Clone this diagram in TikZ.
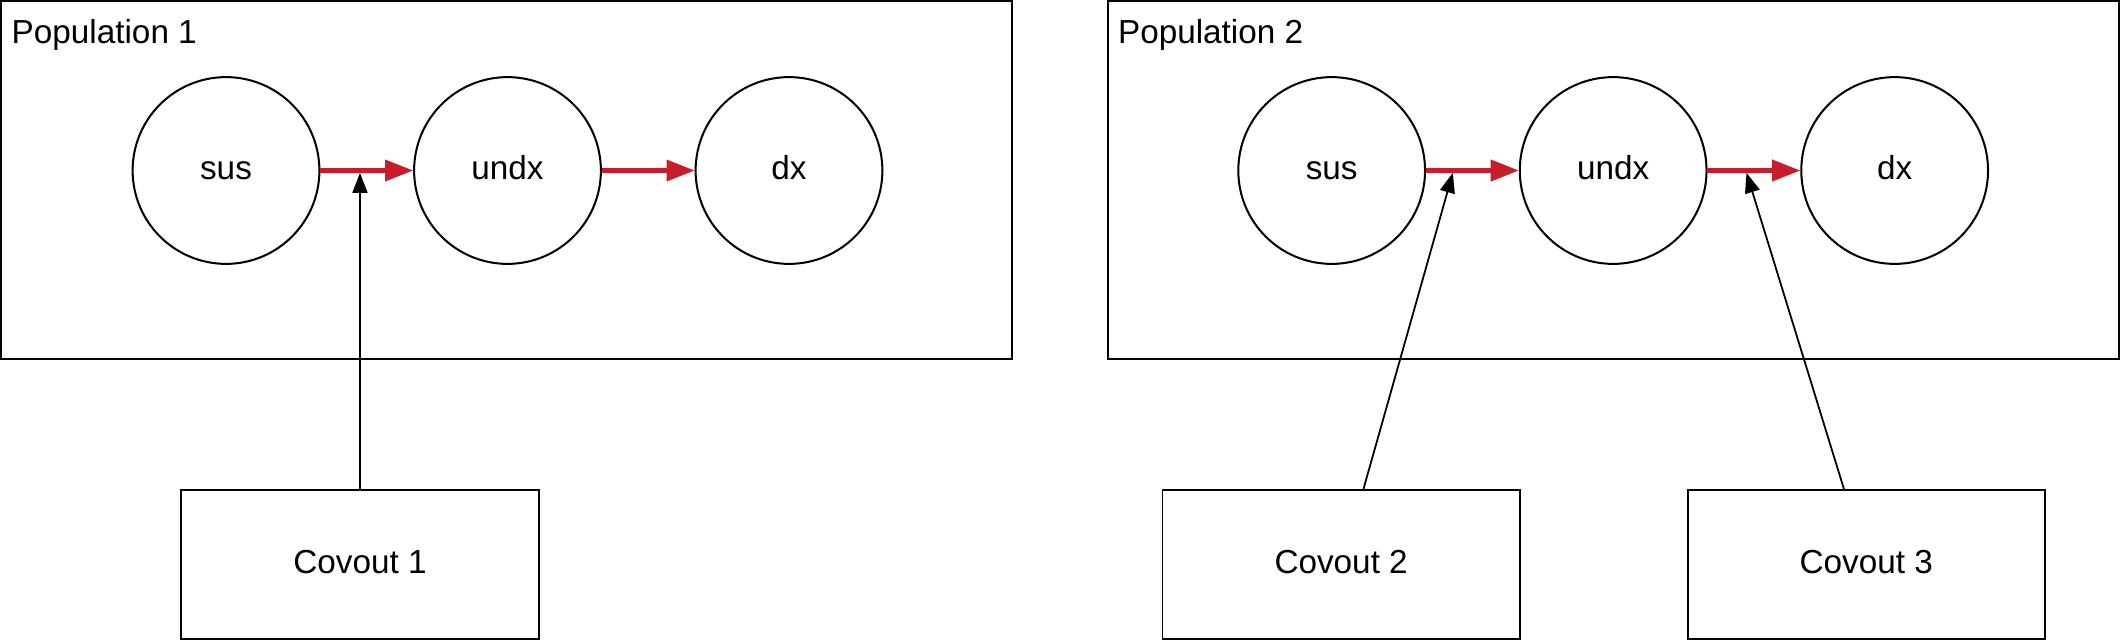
\documentclass[tikz,border=0pt]{standalone}
\usepackage{fontspec}
\setmainfont{Liberation Sans}
\usepackage{tikz}
\usetikzlibrary{shapes,arrows,arrows.meta}
\definecolor{flowred}{rgb}{0.78, 0.11, 0.16}
\tikzstyle{popbox}=[draw,rectangle,line width=0.8pt,minimum width=14.94cm,minimum height=5.28cm,inner sep=0pt]
\tikzstyle{poplabel}=[anchor=north west,inner xsep=0.16cm,inner ysep=0.28cm,font=\fontsize{14}{17}\selectfont]
\tikzstyle{stage}=[draw,circle,line width=0.85pt,minimum size=2.76cm,inner sep=0pt,text height=0.76em,text depth=0pt,font=\fontsize{14}{17}\selectfont]
\tikzstyle{covbox}=[draw,rectangle,line width=0.8pt,minimum width=5.28cm,minimum height=2.2cm,inner sep=0pt,text height=0.76em,text depth=0pt,font=\fontsize{14}{17}\selectfont]
\tikzstyle{flow}=[line width=1.7pt,draw=flowred,-{Triangle[length=11.8pt,width=8.8pt,fill=flowred]}]
\tikzstyle{effect}=[line width=0.75pt,shorten >=1pt,-{Triangle[length=8.4pt,width=6.3pt]}]

\begin{document}
\begin{tikzpicture}
\useasboundingbox (0,0) rectangle (31.36,9.48);
% population 1
\node[popbox] (pop1) at (7.49,6.82) {};
\node[poplabel] (lab1) at (pop1.north west) {Population 1};
\node[stage] (sus1) at (3.34,6.96) {sus};
\node[stage] (undx1) at (7.50,6.96) {undx};
\node[stage] (dx1) at (11.66,6.96) {dx};
\draw[flow] (sus1) -- (undx1);
\draw[flow] (undx1) -- (dx1);
% population 2
\node[popbox] (pop2) at (23.84,6.82) {};
\node[poplabel] (lab2) at (pop2.north west) {Population 2};
\node[stage] (sus2) at (19.68,6.96) {sus};
\node[stage] (undx2) at (23.84,6.96) {undx};
\node[stage] (dx2) at (28.00,6.96) {dx};
\draw[flow] (sus2) -- (undx2);
\draw[flow] (undx2) -- (dx2);
% covariates
\node[covbox] (cov1) at (5.32,1.14) {Covout 1};
\node[covbox] (cov2) at (19.82,1.14) {Covout 2};
\node[covbox] (cov3) at (27.58,1.14) {Covout 3};
\coordinate (hit2) at (21.48,6.96);
\coordinate (hit3) at (25.80,6.96);
\draw[effect] (cov1.north) -- (cov1.north |- sus1.east);
\draw[effect] ([xshift=0.33cm]cov2.north) -- (hit2);
\draw[effect] ([xshift=-0.33cm]cov3.north) -- (hit3);
\end{tikzpicture}
\end{document}
